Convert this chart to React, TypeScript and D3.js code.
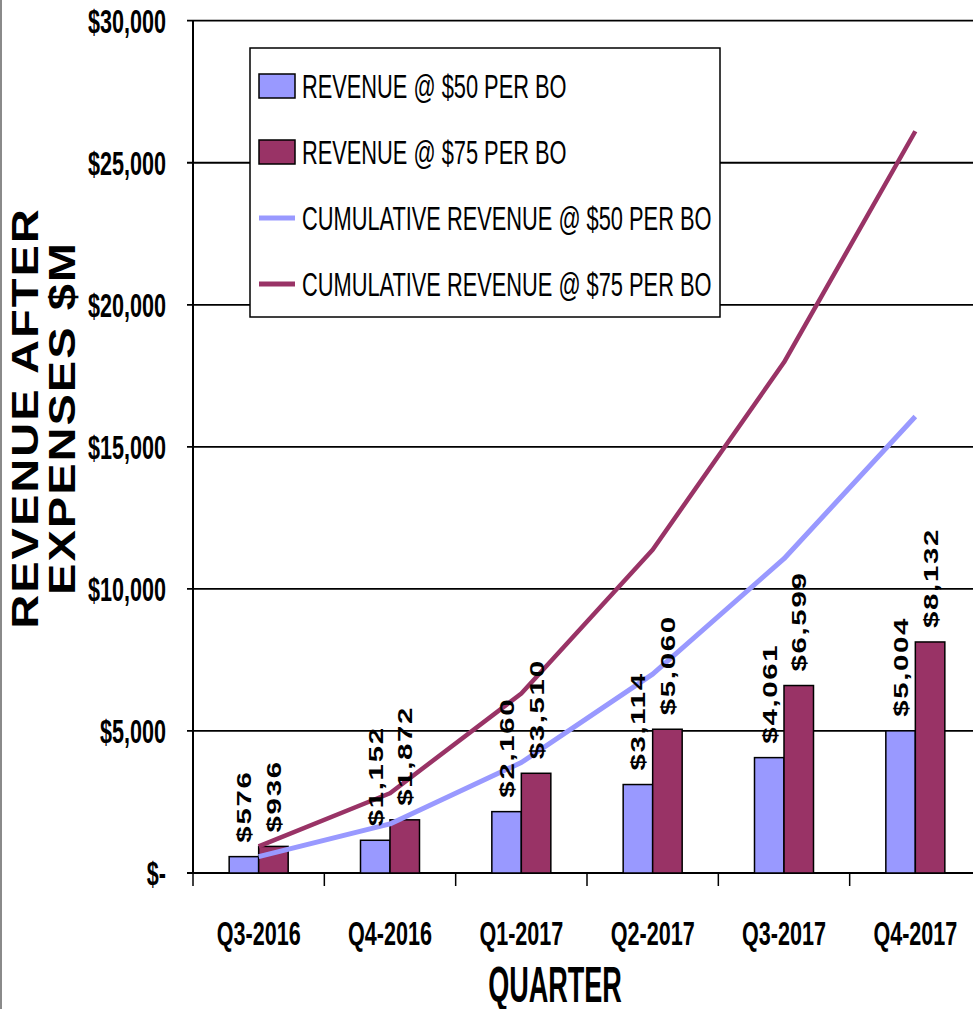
import React from "react";
import * as d3 from "d3";

// Quarterly revenue after expenses ($M) at two oil price scenarios
const quarters = ["Q3-2016", "Q4-2016", "Q1-2017", "Q2-2017", "Q3-2017", "Q4-2017"];
const revenue50 = [576, 1152, 2160, 3114, 4061, 5004];
const revenue75 = [936, 1872, 3510, 5060, 6599, 8132];
const cumulative50 = [576, 1728, 3888, 7002, 11063, 16067];
const cumulative75 = [936, 2808, 6318, 11378, 17977, 26109];
const yTicks = [0, 5000, 10000, 15000, 20000, 25000, 30000];
const legendLabels = [
  "REVENUE @ $50 PER BO",
  "REVENUE @ $75 PER BO",
  "CUMULATIVE REVENUE @ $50 PER BO",
  "CUMULATIVE REVENUE @ $75 PER BO",
];

const W = 973;
const H = 1009;
const BLUE = "#9999FF";
const PLUM = "#993366";
const FONT = "'Liberation Sans', Arial, sans-serif";
const SX = 0.82; // narrow face
const SY = 1.27; // tall glyphs

const plot = { left: 193, right: 981, top: 20.7, bottom: 873 };

const x = d3.scaleBand<string>().domain(quarters).range([plot.left, plot.right]).padding(0);
const groupW = 59;
const xs = d3.scaleBand<string>().domain(["a", "b"]).range([0, groupW]).padding(0);
const y = d3.scaleLinear().domain([0, 30000]).range([plot.bottom, plot.top]);

const fmtMoney = (v: number) => (v === 0 ? "$-" : "$" + d3.format(",")(v));

const lineGen = d3
  .line<number>()
  .x((_, i) => (x(quarters[i]) as number) + x.bandwidth() / 2)
  .y((v) => y(v));

function NarrowText(props: {
  x: number;
  y: number;
  size: number;
  bold?: boolean;
  anchor?: string;
  sy?: number;
  children: React.ReactNode;
}) {
  return (
    <text
      transform={`translate(${props.x},${props.y}) scale(${SX},${props.sy || SY})`}
      fontFamily={FONT}
      fontSize={props.size}
      fontWeight={props.bold ? "bold" : "normal"}
      textAnchor={props.anchor || "start"}
      fill="#000"
    >
      {props.children}
    </text>
  );
}

export default function App() {
  const bw = x.bandwidth();
  const series = [
    { key: "a", values: revenue50, color: BLUE },
    { key: "b", values: revenue75, color: PLUM },
  ];
  const groupOffset = (bw - groupW) / 2;

  return (
    <svg
      width={W}
      height={H}
      style={{ position: "absolute", left: 0, top: 0, background: "#fff" }}
    >
      <rect x={0} y={0} width={W} height={H} fill="#fff" />
      {/* slide edge */}
      <line x1={1} y1={0} x2={1} y2={H} stroke="#8a8a8a" strokeWidth={2} />

      {/* horizontal gridlines and y ticks */}
      {yTicks.map((t) => (
        <g key={t}>
          <line x1={plot.left - 6} x2={W} y1={y(t)} y2={y(t)} stroke="#000" strokeWidth={t === 0 ? 2.2 : 1.8} />
          <NarrowText x={166} y={y(t) + 12} size={26.3} bold anchor="end">
            {fmtMoney(t)}
          </NarrowText>
        </g>
      ))}

      {/* y axis */}
      <line x1={plot.left} x2={plot.left} y1={plot.top} y2={plot.bottom} stroke="#000" strokeWidth={2} />

      {/* category boundary ticks */}
      {quarters.map((q) => (
        <line
          key={"t" + q}
          x1={x(q) as number}
          x2={x(q) as number}
          y1={plot.bottom}
          y2={plot.bottom + 13}
          stroke="#000"
          strokeWidth={1.5}
        />
      ))}

      {/* bars */}
      {quarters.map((q, i) =>
        series.map((s) => {
          const bx = (x(q) as number) + groupOffset + (xs(s.key) as number);
          const v = s.values[i];
          return (
            <rect
              key={q + s.key}
              x={bx}
              y={y(v)}
              width={xs.bandwidth()}
              height={plot.bottom - y(v)}
              fill={s.color}
              stroke="#000"
              strokeWidth={1.5}
            />
          );
        })
      )}

      {/* cumulative lines */}
      <path d={lineGen(cumulative50) || ""} fill="none" stroke={BLUE} strokeWidth={5} strokeLinejoin="round" />
      <path d={lineGen(cumulative75) || ""} fill="none" stroke={PLUM} strokeWidth={4.5} strokeLinejoin="round" />

      {/* bar value labels */}
      {quarters.map((q, i) =>
        series.map((s) => {
          const cx = (x(q) as number) + groupOffset + (xs(s.key) as number) + xs.bandwidth() / 2;
          const v = s.values[i];
          return (
            <text
              key={"l" + q + s.key}
              transform={`translate(${cx},${y(v) - 14}) rotate(-90) scale(1.4,1)`}
              fontFamily={FONT}
              fontSize={21}
              fontWeight="bold"
              letterSpacing={1.2}
              dy="0.36em"
              textAnchor="start"
              fill="#000"
            >
              {fmtMoney(v)}
            </text>
          );
        })
      )}

      {/* category labels */}
      {quarters.map((q) => (
        <NarrowText key={"c" + q} x={(x(q) as number) + bw / 2} y={945} size={26.3} bold anchor="middle">
          {q}
        </NarrowText>
      ))}

      {/* axis titles */}
      <NarrowText x={555} y={1002} size={33} sy={1.5} bold anchor="middle">
        QUARTER
      </NarrowText>
      <g fontFamily={FONT} fontWeight="bold" fontSize={37} fill="#000">
        <text transform={`translate(38,418) rotate(-90) scale(${SY},1)`} textAnchor="middle" letterSpacing={1.6}>
          REVENUE AFTER
        </text>
        <text transform={`translate(75,418) rotate(-90) scale(${SY},1)`} textAnchor="middle" letterSpacing={1.6}>
          EXPENSES $M
        </text>
      </g>

      {/* legend */}
      <rect x={250} y={48} width={470} height={269} fill="#fff" stroke="#000" strokeWidth={1.5} />
      {legendLabels.map((label, i) => {
        const cy = 86 + i * 66;
        return (
          <g key={label}>
            {i < 2 ? (
              <rect
                x={259}
                y={cy - 12}
                width={36}
                height={24}
                fill={i === 0 ? BLUE : PLUM}
                stroke="#000"
                strokeWidth={1.5}
              />
            ) : (
              <line x1={259} x2={295} y1={cy} y2={cy} stroke={i === 2 ? BLUE : PLUM} strokeWidth={5} />
            )}
            <NarrowText x={302} y={cy + 12} size={26.6}>
              {label}
            </NarrowText>
          </g>
        );
      })}
    </svg>
  );
}
